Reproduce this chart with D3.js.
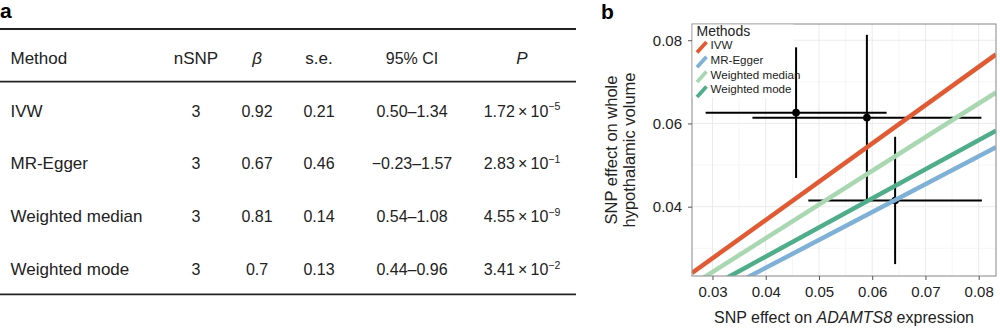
<!DOCTYPE html>
<html>
<head>
<meta charset="utf-8">
<script src="https://cdn.jsdelivr.net/npm/d3@7"></script>
<style>
  body { margin: 0; background: #fff; }
  svg { display: block; font-family: "Liberation Sans", Arial, sans-serif; }
</style>
</head>
<body>
<div id="chart"></div>
<script>
// table (panel a)
var methods = ["IVW", "MR-Egger", "Weighted median", "Weighted mode"];
var nSNP = [3, 3, 3, 3];
var beta = [0.92, 0.67, 0.81, 0.7];
var se = [0.21, 0.46, 0.14, 0.13];
var ciLow = [0.50, -0.23, 0.54, 0.44];
var ciHigh = [1.34, 1.57, 1.08, 0.96];
var pMant = ["1.72", "2.83", "4.55", "3.41"];
var pExp = [-5, -1, -9, -2];
var headers = ["Method", "nSNP", "β", "s.e.", "95% CI", "P"];

// scatter (panel b)
var snpX = [0.0457, 0.0590, 0.0643];
var snpXse = [0.0170, 0.0215, 0.0163];
var snpY = [0.0626, 0.0614, 0.0415];
var snpYse = [0.0157, 0.0199, 0.0153];
var intercepts = [0, -0.0015, 0, 0];   // MR-Egger intercept
var colors = ["#e05a34", "#7fb1d6", "#a9d7b2", "#4fae89"];
var xDomain = [0.02615, 0.08325];
var yDomain = [0.02334, 0.0839];
var xTicks = [0.03, 0.04, 0.05, 0.06, 0.07, 0.08];
var yTicks = [0.04, 0.06, 0.08];

var W = 1000, H = 328;
var svg = d3.select("#chart").append("svg").attr("width", W).attr("height", H);

// ---------- panel a ----------
var ta = svg.append("g");
ta.append("text").attr("x", 0).attr("y", 18).attr("font-size", 21).attr("font-weight", "bold").text("a");

var ruleX = [0, 576];
[29, 81.7, 294.3].forEach(function(y) {
  ta.append("line").attr("x1", ruleX[0]).attr("x2", ruleX[1]).attr("y1", y).attr("y2", y)
    .attr("stroke", "#222").attr("stroke-width", 1.8);
});

var colX = [10.5, 196, 257, 319, 412, 522];
var fsWord = 17, fsNum = 16;
headers.forEach(function(h, i) {
  var t = ta.append("text").attr("x", colX[i]).attr("y", 64).attr("font-size", i === 4 ? fsNum : fsWord).attr("fill", "#222")
    .attr("text-anchor", i === 0 ? "start" : "middle").text(h);
  if (h === "β" || h === "P") t.attr("font-style", "italic");
});

var rowY = d3.scaleLinear().domain([0, 3]).range([116.7, 275]);
methods.forEach(function(m, i) {
  var y = rowY(i);
  var g = ta.append("g").attr("font-size", fsNum).attr("fill", "#222");
  g.append("text").attr("x", colX[0]).attr("y", y).attr("font-size", fsWord).text(m);
  g.append("text").attr("x", colX[1]).attr("y", y).attr("text-anchor", "middle").text(nSNP[i]);
  g.append("text").attr("x", colX[2]).attr("y", y).attr("text-anchor", "middle").text(String(beta[i]));
  g.append("text").attr("x", colX[3]).attr("y", y).attr("text-anchor", "middle").text(String(se[i]));
  var lo = (ciLow[i] < 0 ? "\u2212" : "") + Math.abs(ciLow[i]).toFixed(2);
  g.append("text").attr("x", colX[4]).attr("y", y).attr("text-anchor", "middle").text(lo + "\u2013" + ciHigh[i].toFixed(2));
  var pt = g.append("text").attr("x", colX[5]).attr("y", y).attr("text-anchor", "middle").attr("font-size", 16);
  pt.append("tspan").text(pMant[i] + "\u2009\u00d7\u200910");
  pt.append("tspan").attr("dy", -6.5).attr("font-size", 10.5).text("\u2212" + Math.abs(pExp[i]));
});

// ---------- panel b ----------
var m = { left: 692, top: 24, right: 4, bottom: 52 };
var pw = W - m.left - m.right, ph = H - m.top - m.bottom;
var x = d3.scaleLinear().domain(xDomain).range([0, pw]);
var y = d3.scaleLinear().domain(yDomain).range([ph, 0]);

svg.append("text").attr("x", 601).attr("y", 19).attr("font-size", 21).attr("font-weight", "bold").text("b");

var g = svg.append("g").attr("transform", "translate(" + m.left + "," + m.top + ")");
g.append("clipPath").attr("id", "clip").append("rect").attr("width", pw).attr("height", ph);

// grid
var xMinor = xTicks.map(function(t) { return t - 0.005; }).concat([0.085]);
var yMinor = [0.03, 0.05, 0.07];
var grid = g.append("g");
xMinor.forEach(function(t) {
  if (t > xDomain[0] && t < xDomain[1])
    grid.append("line").attr("x1", x(t)).attr("x2", x(t)).attr("y1", 0).attr("y2", ph).attr("stroke", "#f4f4f4").attr("stroke-width", 0.8);
});
yMinor.forEach(function(t) {
  grid.append("line").attr("y1", y(t)).attr("y2", y(t)).attr("x1", 0).attr("x2", pw).attr("stroke", "#f4f4f4").attr("stroke-width", 0.8);
});
xTicks.forEach(function(t) {
  grid.append("line").attr("x1", x(t)).attr("x2", x(t)).attr("y1", 0).attr("y2", ph).attr("stroke", "#ebebeb").attr("stroke-width", 1);
});
yTicks.forEach(function(t) {
  grid.append("line").attr("y1", y(t)).attr("y2", y(t)).attr("x1", 0).attr("x2", pw).attr("stroke", "#ebebeb").attr("stroke-width", 1);
});

// error bars + points
var pts = g.append("g").attr("clip-path", "url(#clip)");
snpX.forEach(function(sx, i) {
  pts.append("line").attr("x1", x(sx - snpXse[i])).attr("x2", x(sx + snpXse[i]))
    .attr("y1", y(snpY[i])).attr("y2", y(snpY[i])).attr("stroke", "#000").attr("stroke-width", 2);
  pts.append("line").attr("x1", x(sx)).attr("x2", x(sx))
    .attr("y1", y(snpY[i] - snpYse[i])).attr("y2", y(snpY[i] + snpYse[i])).attr("stroke", "#000").attr("stroke-width", 2);
  pts.append("circle").attr("cx", x(sx)).attr("cy", y(snpY[i])).attr("r", 3.8).attr("fill", "#000");
});

// MR lines
var lines = g.append("g").attr("clip-path", "url(#clip)");
methods.forEach(function(mm, i) {
  lines.append("line")
    .attr("x1", x(xDomain[0])).attr("y1", y(beta[i] * xDomain[0] + intercepts[i]))
    .attr("x2", x(xDomain[1])).attr("y2", y(beta[i] * xDomain[1] + intercepts[i]))
    .attr("stroke", colors[i]).attr("stroke-width", 4.5);
});

// border
g.append("rect").attr("width", pw).attr("height", ph).attr("fill", "none").attr("stroke", "#9a9a9a").attr("stroke-width", 1.2);

// axes
var xAxis = g.append("g").attr("transform", "translate(0," + ph + ")")
  .call(d3.axisBottom(x).tickValues(xTicks).tickFormat(d3.format(".2f")).tickSize(4).tickPadding(6));
var yAxis = g.append("g")
  .call(d3.axisLeft(y).tickValues(yTicks).tickFormat(d3.format(".2f")).tickSize(4).tickPadding(6));
[xAxis, yAxis].forEach(function(a) {
  a.select(".domain").remove();
  a.selectAll(".tick line").attr("stroke", "#555");
  a.selectAll(".tick text").attr("font-size", 15).attr("fill", "#222").attr("font-family", "Liberation Sans, Arial, sans-serif");
});

// legend
var lg = g.append("g");
lg.append("rect").attr("x", 0.6).attr("y", 0.6).attr("width", 101).attr("height", 73).attr("fill", "#fff");
lg.append("text").attr("x", 4.5).attr("y", 12).attr("font-size", 14).attr("fill", "#222").text("Methods");
methods.forEach(function(mm, i) {
  var by = 25 + i * 14.8;
  lg.append("line").attr("x1", 5).attr("y1", by + 3.5).attr("x2", 14.5).attr("y2", by - 7)
    .attr("stroke", colors[i]).attr("stroke-width", 3.8);
  lg.append("text").attr("x", 18.5).attr("y", by).attr("font-size", 11.6).attr("fill", "#222").text(mm);
});

// axis titles
var xt = svg.append("text").attr("x", m.left + pw / 2).attr("y", 323).attr("text-anchor", "middle")
  .attr("font-size", 16).attr("fill", "#222");
xt.append("tspan").text("SNP effect on ");
xt.append("tspan").attr("font-style", "italic").text("ADAMTS8");
xt.append("tspan").text(" expression");

var yt = svg.append("text").attr("transform", "translate(617," + (m.top + ph / 2) + ") rotate(-90)")
  .attr("text-anchor", "middle").attr("font-size", 16.5).attr("fill", "#222");
yt.append("tspan").attr("x", 0).attr("y", 0).text("SNP effect on whole");
yt.append("tspan").attr("x", 0).attr("y", 18).text("hypothalamic volume");
</script>
</body>
</html>
